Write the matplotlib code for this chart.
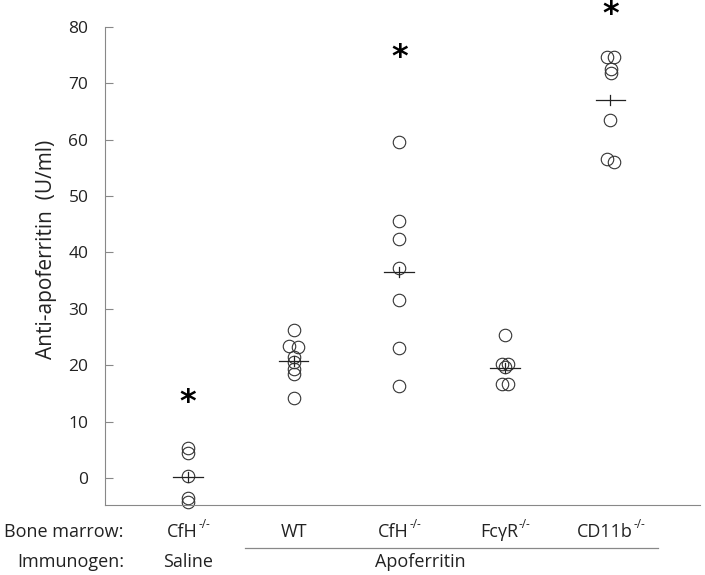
import matplotlib.pyplot as plt

plt.rcParams["font.family"] = ["Open Sans", "DejaVu Sans"]

# Groups (bone marrow genotype) and immunogen
bone_marrow = ["CfH", "WT", "CfH", "FcγR", "CD11b"]
bone_marrow_sup = ["-/-", "", "-/-", "-/-", "-/-"]
immunogen = ["Saline", "Apoferritin"]

# Anti-apoferritin values (U/ml) per group
saline_cfh = [5.3, 4.4, 0.3, -3.5, -4.3]
wt = [26.3, 23.4, 23.3, 21.5, 20.5, 19.3, 18.5, 14.2]
apo_cfh = [59.6, 45.6, 42.4, 37.3, 31.5, 23.0, 16.4]
fcgr = [25.4, 20.3, 20.3, 19.6, 16.6, 16.6]
cd11b = [74.6, 74.6, 72.6, 71.8, 63.5, 56.6, 56.0]

# group means (horizontal bars)
means = [0.2, 20.7, 36.5, 19.5, 67.1]

# asterisks (significance) heights
star_y = [13.4, 74.6, 82.3]
star_groups = [0, 2, 4]

groups = [saline_cfh, wt, apo_cfh, fcgr, cd11b]

# small horizontal offsets so overlapping circles show
offsets = [
    [0, 0, 0, 0, 0],
    [0, -0.04, 0.04, 0, 0, 0, 0, 0],
    [0, 0, 0, 0, 0, 0, 0],
    [0, -0.03, 0.03, 0, -0.03, 0.03],
    [-0.03, 0.03, 0.01, 0.01, 0, -0.03, 0.03],
]

fig = plt.figure(figsize=(7.05, 5.75), dpi=100)
ax = fig.add_axes([0.149, 0.1217, 0.844, 0.8313])

for i, vals in enumerate(groups):
    xs = [i + 1 + o for o in offsets[i]]
    ax.plot(xs, vals, linestyle="none", marker="o", markersize=9,
            markerfacecolor="none", markeredgecolor="#333333",
            markeredgewidth=0.8, clip_on=False)
    ax.plot([i + 1 - 0.14, i + 1 + 0.14], [means[i], means[i]],
            color="#222222", linewidth=0.9)
    ax.plot([i + 1, i + 1], [means[i] - 0.9, means[i] + 0.9],
            color="#222222", linewidth=0.9)

for g, y in zip(star_groups, star_y):
    ax.text(g + 1, y, "*", ha="center", va="center", fontsize=23,
            fontweight="bold", family="DejaVu Sans", clip_on=False)

ax.set_xlim(0.213, 5.85)
ax.set_ylim(-4.8, 80)
ax.set_yticks(range(0, 81, 10))
ax.set_xticks([])
ax.tick_params(axis="y", direction="in", length=6, width=0.8,
               color="#888888", labelsize=12.5, labelcolor="#222222", pad=12)
ax.spines["top"].set_visible(False)
ax.spines["right"].set_visible(False)
ax.spines["left"].set_color("#888888")
ax.spines["bottom"].set_color("#888888")
ax.set_ylabel("Anti-apoferritin  (U/ml)", fontsize=15, color="#222222")
ax.yaxis.set_label_coords(-0.081, 0.535)

# category labels under the axis, with small superscripts
tr = ax.get_xaxis_transform()
fig.canvas.draw()
renderer = fig.canvas.get_renderer()
for i, lab in enumerate(bone_marrow):
    base = ax.text(i + 1, -0.056, lab, transform=tr, ha="center",
                   va="center", fontsize=13, color="#222222")
    if bone_marrow_sup[i]:
        sup = ax.text(0, 0, bone_marrow_sup[i], fontsize=8.5,
                      color="#222222", ha="left", va="center")
        wb = base.get_window_extent(renderer).width
        ws = sup.get_window_extent(renderer).width
        xc = ax.transData.transform((i + 1, 0))[0]
        y0 = ax.transAxes.transform((0, -0.056))[1]
        base.set_transform(None)
        base.set_position((xc - ws / 2, y0))
        sup.set_transform(None)
        sup.set_position((xc - ws / 2 + wb / 2 + 1, y0 + 7))

ax.text(1, -0.119, immunogen[0], transform=tr, ha="center", va="center",
        fontsize=13, color="#222222")
ax.text(3.2, -0.119, immunogen[1], transform=tr, ha="center", va="center",
        fontsize=13, color="#222222")
ax.plot([1.54, 5.455], [-0.09, -0.09], transform=tr, color="#888888",
        linewidth=0.9, clip_on=False)

fig.text(124 / 705, 1 - 532 / 575, "Bone marrow:", ha="right", va="center",
         fontsize=13, color="#222222")
fig.text(124 / 705, 1 - 562 / 575, "Immunogen:", ha="right", va="center",
         fontsize=13, color="#222222")

plt.savefig("out.png", dpi=100)
